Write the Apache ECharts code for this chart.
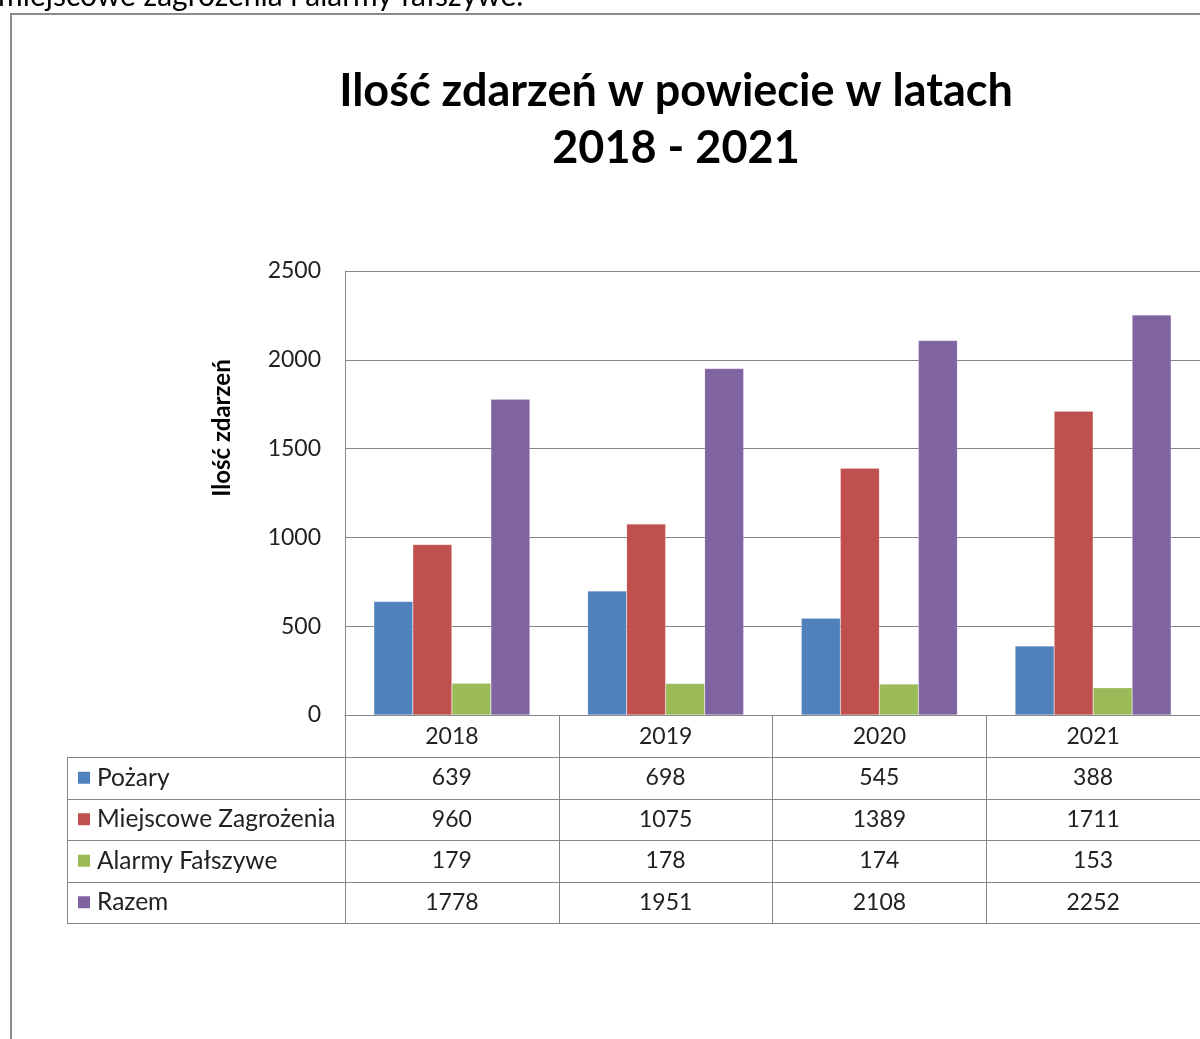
<!DOCTYPE html>
<html>
<head>
<meta charset="utf-8">
<script src="https://cdn.jsdelivr.net/npm/echarts@6/dist/echarts.min.js"></script>
<style>
  html, body { margin: 0; padding: 0; background: #fff; }
  #chart { width: 1200px; height: 1039px; }
</style>
</head>
<body>
<div id="chart"></div>
<script>
// lata
const years = ["2018", "2019", "2020", "2021"];
// serie
const seriesNames = ["Pożary", "Miejscowe Zagrożenia", "Alarmy Fałszywe", "Razem"];
const pozary = [639, 698, 545, 388];
const miejscowe = [960, 1075, 1389, 1711];
const alarmy = [179, 178, 174, 153];
const razem = [1778, 1951, 2108, 2252];
const yTicks = [0, 500, 1000, 1500, 2000, 2500];

const colors = ["#4F81BD", "#C0504D", "#9BBB59", "#8064A2"];
const lineColor = "#868686";
const font = "Lato, 'Open Sans', sans-serif";
const seriesData = [pozary, miejscowe, alarmy, razem];

// układ tabeli danych
const tableLeft = 67;
const tableTop = 757;
const rowH = 41.5;

const myChart = echarts.init(document.getElementById("chart"));

const option = {
  animation: false,
  color: colors,
  textStyle: { fontFamily: font },
  title: {
    text: "Ilość zdarzeń w powiecie w latach\n2018 - 2021",
    left: 671,
    top: 58,
    textAlign: "center",
    textStyle: {
      fontFamily: font,
      fontSize: 45,
      fontWeight: "bold",
      color: "#000",
      lineHeight: 57,
    },
  },
  grid: {
    left: 345,
    top: 271,
    width: 856,
    height: 444,
  },
  xAxis: {
    type: "category",
    data: years,
    axisLine: { lineStyle: { color: lineColor, width: 1 } },
    axisTick: {
      show: true,
      interval: 0,
      length: 208,
      lineStyle: { color: lineColor },
    },
    axisLabel: {
      fontSize: 23,
      color: "#222",
      margin: 10,
      fontFamily: font,
    },
  },
  yAxis: {
    type: "value",
    min: 0,
    max: 2500,
    interval: 500,
    axisLine: { show: true, lineStyle: { color: lineColor } },
    axisTick: { show: false },
    axisLabel: {
      fontSize: 23,
      color: "#222",
      margin: 24,
      fontFamily: font,
      formatter: (v) => (yTicks.includes(v) ? String(v) : ""),
    },
    splitLine: { lineStyle: { color: lineColor } },
  },
  series: seriesNames.map((name, i) => ({
    name,
    type: "bar",
    data: seriesData[i],
    barGap: "0%",
    barCategoryGap: "27%",
    itemStyle: { borderColor: "rgba(255,255,255,0.35)", borderWidth: 0.5 },
  })),
};

myChart.setOption(option);

// tabela danych pod osią X
function buildTable() {
  const els = [];
  const right = 1210;
  const bottom = tableTop + rowH * seriesNames.length;

  // linie poziome
  for (let r = 0; r <= seriesNames.length; r += 1) {
    const y = Math.round(tableTop + rowH * r) + 0.5;
    els.push({
      type: "line",
      shape: { x1: tableLeft, y1: y, x2: right, y2: y },
      style: { stroke: lineColor, lineWidth: 1 },
    });
  }
  // lewa krawędź
  els.push({
    type: "line",
    shape: { x1: tableLeft + 0.5, y1: tableTop, x2: tableLeft + 0.5, y2: bottom },
    style: { stroke: lineColor, lineWidth: 1 },
  });

  for (let r = 0; r < seriesNames.length; r += 1) {
    const cy = tableTop + rowH * (r + 0.5);
    // kwadrat legendy
    els.push({
      type: "rect",
      shape: { x: 78, y: cy - 6, width: 12, height: 12 },
      style: { fill: colors[r] },
    });
    els.push({
      type: "text",
      x: 97,
      y: cy,
      style: {
        text: seriesNames[r],
        fontSize: 24.5,
        fontFamily: font,
        fill: "#222",
        align: "left",
        verticalAlign: "middle",
      },
    });
    for (let c = 0; c < years.length; c += 1) {
      els.push({
        type: "text",
        x: myChart.convertToPixel({ xAxisIndex: 0 }, c),
        y: cy,
        style: {
          text: String(seriesData[r][c]),
          fontSize: 23,
          fontFamily: font,
          fill: "#222",
          align: "center",
          verticalAlign: "middle",
        },
      });
    }
  }

  // tytuł osi Y
  els.push({
    type: "text",
    x: 222,
    y: 428,
    rotation: Math.PI / 2,
    style: {
      text: "Ilość zdarzeń",
      fontSize: 24,
      fontWeight: "bold",
      fontFamily: font,
      fill: "#000",
      align: "center",
      verticalAlign: "middle",
    },
  });

  // ramka wykresu
  els.push({
    type: "polyline",
    shape: { points: [[11, 1045], [11, 14], [1210, 14]] },
    style: { stroke: "#8a8a8a", lineWidth: 2, fill: null },
  });

  // tekst strony nad wykresem (ucięty)
  els.push({
    type: "text",
    x: -2,
    y: 11,
    style: {
      text: "miejscowe zagrożenia i alarmy fałszywe.",
      fontSize: 30,
      fontFamily: font,
      fill: "#000",
      align: "left",
      verticalAlign: "bottom",
    },
  });

  myChart.setOption({ graphic: { elements: els } });
}

buildTable();
</script>
</body>
</html>
